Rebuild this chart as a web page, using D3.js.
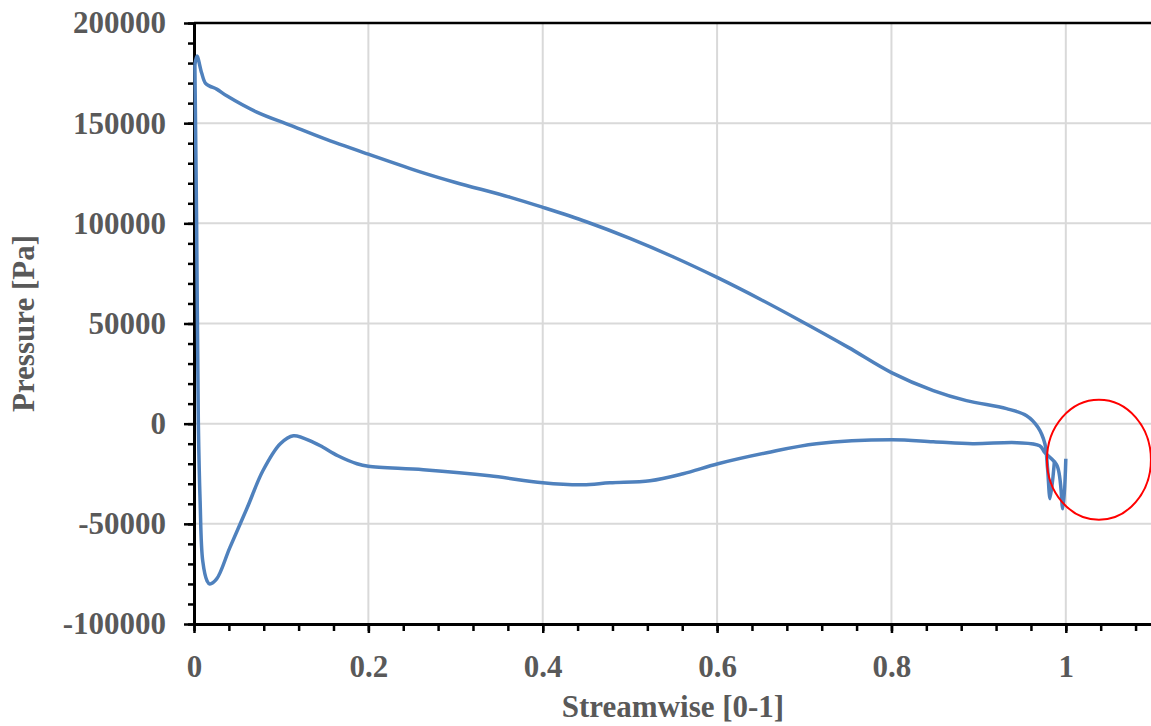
<!DOCTYPE html>
<html>
<head>
<meta charset="utf-8">
<script src="https://cdn.jsdelivr.net/npm/d3@7"></script>
<style>
  body { margin: 0; background: #fff; }
  text { font-family: "Liberation Serif", "Times New Roman", serif; font-weight: bold; fill: #595959; }
</style>
</head>
<body>
<svg width="1151" height="726"></svg>
<script>
// pressure side (upper branch)
var upperX = [0.001, 0.0034, 0.0088, 0.013, 0.018, 0.026, 0.038, 0.072, 0.11, 0.148, 0.2, 0.263, 0.3, 0.362, 0.4, 0.45, 0.5, 0.55, 0.6, 0.65, 0.695, 0.75, 0.8, 0.848, 0.886, 0.932, 0.955, 0.968, 0.976, 0.979, 0.982, 0.987];
var upperY = [179000, 183500, 175000, 170000, 168500, 167000, 163500, 155500, 149000, 142500, 134500, 125200, 120400, 113100, 108000, 100800, 92500, 83200, 73000, 62000, 51500, 38200, 25500, 16500, 11500, 7500, 4000, -1800, -10000, -22000, -37500, -18500];
// suction side (lower branch)
var lowerX = [0.001, 0.003, 0.005, 0.007, 0.010, 0.015, 0.018, 0.026, 0.041, 0.061, 0.079, 0.099, 0.114, 0.137, 0.148, 0.165, 0.187, 0.2, 0.263, 0.339, 0.4, 0.446, 0.477, 0.523, 0.561, 0.601, 0.657, 0.714, 0.8, 0.848, 0.893, 0.944, 0.97, 0.976, 0.99, 0.9966, 1.0];
var lowerY = [179000, 100000, 0, -38500, -68500, -78500, -80000, -77500, -62000, -42000, -23500, -10000, -6000, -9300, -11800, -16000, -20000, -21300, -23000, -26000, -29500, -30500, -29500, -28500, -25000, -20000, -14500, -10000, -8000, -9000, -10000, -9500, -11000, -14500, -21000, -42500, -17500];

var xTicks = [0, 0.2, 0.4, 0.6, 0.8, 1];
var yTicks = [-100000, -50000, 0, 50000, 100000, 150000, 200000];
var xTitle = "Streamwise [0-1]";
var yTitle = "Pressure [Pa]";
// red circle marking the trailing edge
var markX = 1.038, markY = -18000;

var padL = 194, padR = 1153, padT = 23, padB = 624;
var svg = d3.select("svg");

var x = d3.scaleLinear().domain([0, 1.1]).range([padL, padR]);
var y = d3.scaleLinear().domain([-100000, 200000]).range([padB, padT]);

// gridlines
svg.append("g").selectAll("line")
  .data(xTicks.slice(1))
  .enter().append("line")
  .attr("x1", function(d){ return x(d); })
  .attr("x2", function(d){ return x(d); })
  .attr("y1", padT).attr("y2", padB)
  .attr("stroke", "#d9d9d9").attr("stroke-width", 2);
svg.append("g").selectAll("line")
  .data(yTicks.slice(1))
  .enter().append("line")
  .attr("y1", function(d){ return y(d); })
  .attr("y2", function(d){ return y(d); })
  .attr("x1", padL).attr("x2", padR)
  .attr("stroke", "#d9d9d9").attr("stroke-width", 2);

// top border
svg.append("line")
  .attr("x1", padL).attr("x2", padR)
  .attr("y1", y(200000)).attr("y2", y(200000))
  .attr("stroke", "#000").attr("stroke-width", 2.5);

// minor ticks
var xMinor = d3.range(0, 1.1001, 0.04);
var yMinor = d3.range(-100000, 200001, 10000);
svg.append("g").attr("transform", "translate(0," + padB + ")")
  .call(d3.axisBottom(x).tickValues(xMinor).tickSize(7).tickFormat(""))
  .call(function(g){ g.select(".domain").remove(); g.selectAll("line").attr("stroke-width", 2.5); });
svg.append("g").attr("transform", "translate(" + padL + ",0)")
  .call(d3.axisLeft(y).tickValues(yMinor).tickSize(6).tickFormat(""))
  .call(function(g){ g.select(".domain").remove(); g.selectAll("line").attr("stroke-width", 2.5); });

// major axes
var xAxis = svg.append("g").attr("transform", "translate(0," + padB + ")")
  .call(d3.axisBottom(x).tickValues(xTicks).tickSize(9).tickSizeOuter(0).tickPadding(22).tickFormat(function(d){ return String(d); }));
var yAxis = svg.append("g").attr("transform", "translate(" + padL + ",0)")
  .call(d3.axisLeft(y).tickValues(yTicks).tickSize(10).tickSizeOuter(0).tickPadding(18).tickFormat(function(d){ return String(d); }));
[xAxis, yAxis].forEach(function(g){
  g.attr("font-family", null).attr("font-size", null);
  g.select(".domain").attr("stroke-width", 3);
  g.selectAll(".tick line").attr("stroke-width", 2.5);
  g.selectAll("text").style("font-size", "31px").style("fill", "#595959");
});

// curves
var line = d3.line()
  .x(function(d){ return x(d[0]); })
  .y(function(d){ return y(d[1]); })
  .curve(d3.curveCatmullRom.alpha(0.5));
[[upperX, upperY], [lowerX, lowerY]].forEach(function(s){
  var pts = s[0].map(function(v, i){ return [v, s[1][i]]; });
  svg.append("path")
    .attr("d", line(pts))
    .attr("fill", "none")
    .attr("stroke", "#4f81bd")
    .attr("stroke-width", 3.5)
    .attr("stroke-linejoin", "round");
});

// annotation
svg.append("ellipse")
  .attr("cx", x(markX)).attr("cy", y(markY))
  .attr("rx", 52).attr("ry", 60)
  .attr("fill", "none").attr("stroke", "#ff0000").attr("stroke-width", 2);

// axis titles
svg.append("text")
  .attr("x", 673).attr("y", 717)
  .attr("text-anchor", "middle")
  .style("font-size", "31px")
  .text(xTitle);
svg.append("text")
  .attr("transform", "translate(34," + y(50000) + ") rotate(-90)")
  .attr("text-anchor", "middle")
  .style("font-size", "31px")
  .text(yTitle);
</script>
</body>
</html>
